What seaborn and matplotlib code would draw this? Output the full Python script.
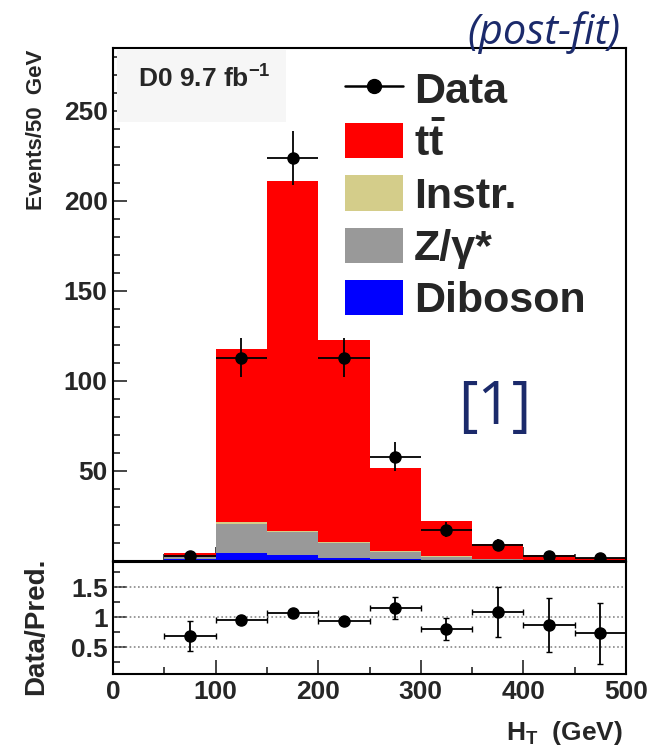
import numpy as np
import pandas as pd
import matplotlib
matplotlib.use('Agg')
import matplotlib.pyplot as plt
import seaborn as sns
from matplotlib.patches import Patch, Rectangle
from matplotlib.lines import Line2D
from matplotlib.ticker import MultipleLocator, FixedLocator

sns.set_theme(style='ticks')
plt.rcParams['font.family'] = ['Liberation Sans', 'DejaVu Sans']
plt.rcParams['font.weight'] = 'bold'
plt.rcParams['mathtext.fontset'] = 'custom'
plt.rcParams['mathtext.rm'] = 'Liberation Sans:bold'
plt.rcParams['mathtext.bf'] = 'Liberation Sans:bold'
plt.rcParams['mathtext.it'] = 'Liberation Sans:bold'

# binning of H_T (GeV)
edges = [0, 50, 100, 150, 200, 250, 300, 350, 400, 450, 500]
centers = [25, 75, 125, 175, 225, 275, 325, 375, 425, 475]

# stacked predictions per bin
tt = [0.0, 2.0, 96.5, 194.2, 112.5, 46.2, 19.3, 8.3, 2.9, 1.2]
instr = [0.0, 0.2, 1.0, 0.8, 0.5, 0.3, 0.2, 0.1, 0.0, 0.0]
zgamma = [0.0, 1.2, 16.2, 12.6, 8.5, 3.8, 1.7, 0.6, 0.3, 0.1]
diboson = [0.6, 1.0, 4.3, 3.4, 1.5, 1.2, 0.8, 0.5, 0.3, 0.2]

# data
data_x = [75, 125, 175, 225, 275, 325, 375, 425, 475]
data_y = [3, 113, 224, 113, 58, 17.5, 9, 3, 1.5]
data_err = [1.7, 11, 15, 11, 8, 4, 3, 1.7, 1.2]

# data / prediction
ratio = [0.68, 0.955, 1.07, 0.93, 1.15, 0.80, 1.085, 0.87, 0.73]
ratio_err = [0.25, 0.05, 0.03, 0.03, 0.19, 0.18, 0.41, 0.45, 0.51]

procs = [r'$\mathbf{t\bar{t}}$', 'Instr.', 'Z/γ*', 'Diboson']
colors = ['#ff0000', '#d4cd8a', '#999999', '#0000ff']
navy = '#1b2a6b'

rows = []
for name, vals in zip(procs, [tt, instr, zgamma, diboson]):
    for c, v in zip(centers, vals):
        rows.append({'ht': c, 'n': v, 'proc': name})
df = pd.DataFrame(rows)

fig = plt.figure(figsize=(6.5, 7.5), dpi=100)
ax = fig.add_axes([0.174, 0.252, 0.789, 0.684])
axr = fig.add_axes([0.174, 0.1013, 0.789, 0.1494])

sns.histplot(data=df, x='ht', weights='n', hue='proc', hue_order=procs,
             palette=colors, bins=edges, multiple='stack', element='step',
             fill=True, alpha=1, linewidth=0, legend=False, ax=ax)
ax.errorbar(data_x, data_y, yerr=data_err, xerr=25, fmt='o', color='black',
            ms=8, elinewidth=1.3, capsize=0, zorder=5)

ax.set_xlim(0, 500)
ax.set_ylim(0, 285)
ax.set_xlabel('')
ax.set_ylabel('Events/50  GeV', fontsize=16, fontweight='bold')
ax.yaxis.set_label_coords(-0.129, 0.84)
ax.yaxis.set_major_locator(FixedLocator([50, 100, 150, 200, 250]))
ax.yaxis.set_minor_locator(MultipleLocator(10))
ax.xaxis.set_major_locator(MultipleLocator(100))
ax.xaxis.set_minor_locator(MultipleLocator(50))
ax.tick_params(axis='x', which='both', labelbottom=False, direction='in')
ax.tick_params(axis='both', which='major', length=10, width=1.2, direction='in')
ax.tick_params(axis='both', which='minor', length=5, width=1.2, direction='in')
ax.tick_params(axis='y', labelsize=19, pad=4)
for s in ax.spines.values():
    s.set_linewidth(1.5)
    s.set_color('black')

# label box
ax.add_patch(Rectangle((0.008, 0.856), 0.33, 0.14, transform=ax.transAxes,
                       facecolor='#f6f6f6', edgecolor='none', zorder=3))
ax.text(0.049, 0.922, 'D0 9.7 fb$^{-1}$', transform=ax.transAxes, fontsize=19,
        fontweight='bold', va='baseline', ha='left', zorder=4)

handles = [Line2D([0], [0], color='black', marker='o', ms=10, lw=1.8)]
handles += [Patch(facecolor=c, edgecolor='none') for c in colors]
leg = ax.legend(handles, ['Data'] + procs, loc='upper left',
                bbox_to_anchor=(0.452, 0.957), frameon=True, fancybox=False,
                framealpha=1, edgecolor='white', prop={'size': 31, 'weight': 'bold'},
                handlelength=1.35, handleheight=0.88, labelspacing=0.25,
                handletextpad=0.25, borderaxespad=0, borderpad=0)

fig.text(0.955, 0.956, '(post-fit)', fontsize=30, style='italic', fontweight='normal',
         color=navy, ha='right', va='center', family=['Open Sans', 'DejaVu Sans'])
ax.text(0.745, 0.298, '[1]', transform=ax.transAxes, fontsize=43, fontweight='normal',
        color=navy, ha='center', va='center', family=['Open Sans', 'DejaVu Sans'])

# ratio panel
for yv in [0.5, 1.0, 1.5]:
    axr.axhline(yv, color='#888888', lw=1.2, ls=(0, (1, 1.5)), zorder=1)
axr.errorbar(data_x, ratio, yerr=ratio_err, xerr=25, fmt='o', color='black',
             ms=8, elinewidth=1.3, capsize=2, zorder=5)
axr.set_xlim(0, 500)
axr.set_ylim(0.05, 1.92)
axr.yaxis.set_major_locator(FixedLocator([0.5, 1.0, 1.5]))
axr.yaxis.set_minor_locator(MultipleLocator(0.25))
axr.set_yticklabels(['0.5', '1', '1.5'])
axr.xaxis.set_major_locator(MultipleLocator(100))
axr.xaxis.set_minor_locator(MultipleLocator(50))
axr.tick_params(axis='both', which='major', length=10, width=1.2, direction='in')
axr.tick_params(axis='both', which='minor', length=5, width=1.2, direction='in')
axr.tick_params(axis='both', labelsize=19, pad=4)
axr.set_ylabel('Data/Pred.', fontsize=20, fontweight='bold')
axr.yaxis.set_label_coords(-0.125, 0.43)
axr.set_xlabel(r'$\mathbf{H_T}$  (GeV)', fontsize=19, fontweight='bold')
axr.xaxis.set_label_coords(0.994, -0.40)
axr.xaxis.label.set_horizontalalignment('right')
for s in axr.spines.values():
    s.set_linewidth(1.5)
    s.set_color('black')

fig.savefig('out.png', dpi=100, facecolor='white')
